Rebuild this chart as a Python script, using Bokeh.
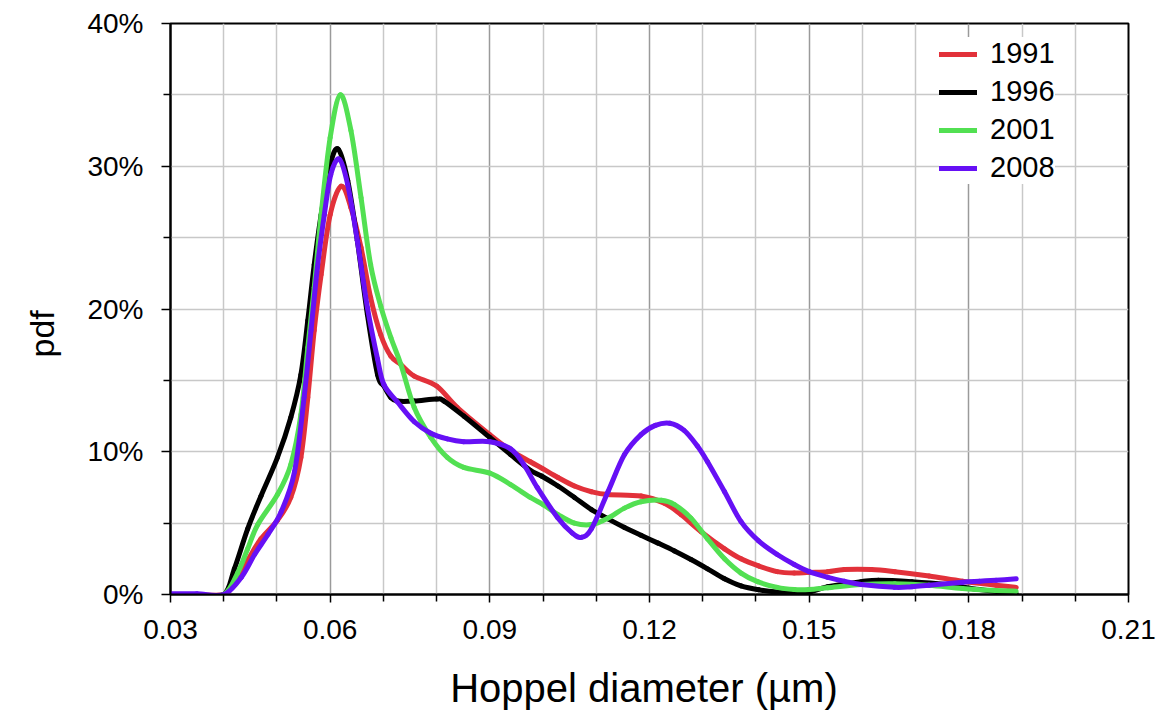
from bokeh.plotting import figure
from bokeh.models import Range1d, FixedTicker, CustomJSTickFormatter, Legend, LegendItem, Title
from bokeh.embed import file_html
from bokeh.resources import INLINE

FONT = "Liberation Sans"

# ---- data (diameter in um, pdf in %) ----
d_1991 = [0.030, 0.035, 0.040, 0.042, 0.0445, 0.047, 0.0501, 0.0526, 0.0545, 0.0558, 0.0570, 0.0583,
          0.0600, 0.0621, 0.0639, 0.0658, 0.0676, 0.0695, 0.0714, 0.0733, 0.0758, 0.0800, 0.0839,
          0.0900, 0.0939, 0.0976, 0.1000, 0.1028, 0.1059, 0.1091, 0.1122, 0.1184, 0.1228, 0.1259,
          0.1297, 0.1341, 0.1372, 0.1405, 0.1440, 0.1472, 0.1500, 0.1535, 0.1566, 0.1617, 0.1661,
          0.1725, 0.1788, 0.1851, 0.1889]
v_1991 = [0.0, 0.0, 0.0, 0.8, 2.4, 3.9, 5.2, 6.8, 9.6, 13.8, 18.5, 22.4,
          26.6, 28.6, 27.1, 24.3, 20.8, 18.2, 16.7, 16.1, 15.3, 14.6, 13.1,
          11.2, 10.1, 9.3, 8.8, 8.2, 7.6, 7.2, 7.0, 6.9, 6.4, 5.6,
          4.4, 3.2, 2.5, 2.0, 1.6, 1.5, 1.55, 1.6, 1.75, 1.75, 1.6,
          1.3, 0.93, 0.65, 0.5]

d_1996 = [0.030, 0.035, 0.040, 0.042, 0.0445, 0.047, 0.0501, 0.0526, 0.0545, 0.0558, 0.0570, 0.0583,
          0.0600, 0.0615, 0.0633, 0.0651, 0.0670, 0.0689, 0.0701, 0.0714, 0.0726, 0.0758, 0.0800,
          0.0814, 0.0851, 0.0900, 0.0939, 0.0976, 0.0997, 0.1028, 0.1059, 0.1091, 0.1122, 0.1153,
          0.1184, 0.1216, 0.1247, 0.1278, 0.1309, 0.1341, 0.1372, 0.1405, 0.1440, 0.1472, 0.1503,
          0.1535, 0.1598, 0.1630, 0.1693, 0.1756, 0.1820, 0.1889]
v_1996 = [0.0, 0.0, 0.0, 1.8, 4.6, 6.9, 9.6, 12.4, 15.4, 19.2, 23.1, 26.6,
          30.1, 31.2, 29.0, 24.8, 19.6, 15.4, 14.6, 13.8, 13.55, 13.55, 13.7,
          13.55, 12.5, 11.0, 9.8, 8.7, 8.3, 7.6, 6.8, 5.95, 5.3, 4.7,
          4.15, 3.6, 3.05, 2.45, 1.8, 1.1, 0.6, 0.33, 0.17, 0.1, 0.2,
          0.55, 0.9, 1.0, 0.9, 0.7, 0.35, 0.05]

d_2001 = [0.030, 0.035, 0.040, 0.0426, 0.0445, 0.0464, 0.0501, 0.0526, 0.0545, 0.0558, 0.0570, 0.0583,
          0.0600, 0.0619, 0.0639, 0.0658, 0.0676, 0.0695, 0.0714, 0.0733, 0.0758, 0.0789, 0.0820,
          0.0851, 0.0900, 0.0939, 0.0976, 0.1000, 0.1028, 0.1059, 0.1091, 0.1122, 0.1153, 0.1184,
          0.1222, 0.1247, 0.1278, 0.1309, 0.1341, 0.1372, 0.1403, 0.1440, 0.1472, 0.1500, 0.1535,
          0.1598, 0.1661, 0.1725, 0.1788, 0.1851, 0.1889]
v_2001 = [0.0, 0.0, 0.0, 1.5, 3.2, 4.9, 7.0, 9.1, 12.6, 17.3, 21.5, 26.6,
          32.0, 35.0, 32.5, 27.8, 23.1, 20.2, 18.0, 16.1, 13.1, 11.0, 9.6,
          8.9, 8.5, 7.7, 6.8, 6.3, 5.6, 5.0, 4.9, 5.35, 6.05, 6.5,
          6.6, 6.3, 5.35, 3.9, 2.5, 1.5, 0.9, 0.5, 0.35, 0.35, 0.47,
          0.7, 0.75, 0.65, 0.42, 0.28, 0.23]

d_2008 = [0.030, 0.035, 0.040, 0.0433, 0.0458, 0.0483, 0.0508, 0.0533, 0.0551, 0.0564, 0.0576, 0.0589,
          0.0601, 0.0617, 0.0633, 0.0651, 0.0670, 0.0689, 0.0701, 0.0726, 0.0758, 0.0789, 0.0820,
          0.0851, 0.0900, 0.0939, 0.0964, 0.0989, 0.1027, 0.1055, 0.1072, 0.1091, 0.1122, 0.1153,
          0.1184, 0.1211, 0.1238, 0.1265, 0.1290, 0.1309, 0.1341, 0.1372, 0.1405, 0.1440, 0.1472,
          0.1500, 0.1535, 0.1566, 0.1598, 0.1661, 0.1693, 0.1725, 0.1788, 0.1820, 0.1851, 0.1889]
v_2008 = [0.05, 0.05, 0.0, 1.2, 2.8, 4.2, 5.8, 8.6, 13.8, 18.5, 22.9, 26.6,
          29.4, 30.5, 28.7, 24.8, 20.1, 16.5, 14.7, 13.5, 12.1, 11.3, 10.9,
          10.7, 10.7, 10.2, 9.1, 7.5, 5.4, 4.3, 4.0, 4.6, 7.2, 9.8,
          11.2, 11.85, 12.0, 11.5, 10.4, 9.3, 7.2, 5.1, 3.75, 2.8, 2.1,
          1.6, 1.2, 0.93, 0.7, 0.5, 0.55, 0.65, 0.86, 0.93, 1.0, 1.1]

series_names = ["1991", "1996", "2001", "2008"]
series_colors = ["#e2313a", "#000000", "#52e052", "#6610f5"]

x_major = [0.03, 0.06, 0.09, 0.12, 0.15, 0.18, 0.21]
x_minor = [0.04, 0.05, 0.07, 0.08, 0.10, 0.11, 0.13, 0.14, 0.16, 0.17, 0.19, 0.20]
y_major = [0, 10, 20, 30, 40]
y_minor = [5, 15, 25, 35]


def smooth_segments(xv, yv):
    """Bezier segments (smoothed line, as in the original) through the read points."""
    n = len(xv)
    segs = dict(x0=[], y0=[], x1=[], y1=[], cx0=[], cy0=[], cx1=[], cy1=[])
    for i in range(n - 1):
        xa, ya = (xv[i - 1], yv[i - 1]) if i > 0 else (xv[i], yv[i])
        xb, yb = xv[i], yv[i]
        xc, yc = xv[i + 1], yv[i + 1]
        xd, yd = (xv[i + 2], yv[i + 2]) if i + 2 < n else (xc, yc)
        segs["x0"].append(xb); segs["y0"].append(yb)
        segs["x1"].append(xc); segs["y1"].append(yc)
        segs["cx0"].append(xb + (xc - xa) / 6.0); segs["cy0"].append(yb + (yc - ya) / 6.0)
        segs["cx1"].append(xc - (xd - xb) / 6.0); segs["cy1"].append(yc - (yd - yb) / 6.0)
    return segs


p = figure(width=1160, height=713, output_backend="svg", toolbar_location=None,
           x_range=Range1d(0.03, 0.21), y_range=Range1d(0, 40),
           min_border_left=170, min_border_right=32, min_border_top=23, min_border_bottom=119)
p.background_fill_color = "white"
p.border_fill_color = "white"
p.outline_line_color = "black"
p.outline_line_width = 2

# axes
p.xaxis.ticker = FixedTicker(ticks=x_major, minor_ticks=x_minor)
p.yaxis.ticker = FixedTicker(ticks=y_major, minor_ticks=y_minor)
p.xaxis.formatter = CustomJSTickFormatter(code="return tick.toFixed(2);")
p.yaxis.formatter = CustomJSTickFormatter(code="return tick.toFixed(0) + '%';")

for ax in (p.xaxis, p.yaxis):
    ax.axis_line_color = "black"
    ax.axis_line_width = 2
    ax.major_tick_line_color = "black"
    ax.major_tick_line_width = 1.5
    ax.minor_tick_line_color = "black"
    ax.minor_tick_line_width = 1.5
    ax.major_tick_in = 0
    ax.minor_tick_in = 0
    ax.major_label_text_font = FONT
    ax.major_label_text_font_size = "28px"
    ax.major_label_text_color = "black"
    ax.axis_label_text_font = FONT
    ax.axis_label_text_font_style = "normal"
    ax.axis_label_text_color = "black"

p.xaxis.major_tick_out = 8
p.xaxis.minor_tick_out = 7
p.yaxis.major_tick_out = 9
p.yaxis.minor_tick_out = 7
p.xaxis.major_label_standoff = 17
p.yaxis.major_label_standoff = 18
p.xaxis.axis_label = "Hoppel diameter  (µm)"
p.xaxis.axis_label_text_font_size = "40px"
p.xaxis.axis_label_standoff = 24

# y label: a side title so it can sit below the frame centre like the original
ytitle = Title(text="pdf", align="left", offset=237, vertical_align="top", standoff=43,
               text_font=FONT, text_font_size="34px", text_font_style="normal", text_color="black")
p.add_layout(ytitle, "left")

# grid
p.xgrid.ticker = FixedTicker(ticks=x_major, minor_ticks=x_minor)
p.ygrid.ticker = FixedTicker(ticks=y_major, minor_ticks=y_minor)
p.xgrid.grid_line_color = "#9a9a9a"
p.xgrid.grid_line_width = 1.5
p.xgrid.minor_grid_line_color = "#c8c8c8"
p.xgrid.minor_grid_line_width = 1.5
p.ygrid.grid_line_color = "#c8c8c8"
p.ygrid.grid_line_width = 1.5
p.ygrid.minor_grid_line_color = "#c8c8c8"
p.ygrid.minor_grid_line_width = 1.5

xs = [d_1991, d_1996, d_2001, d_2008]
ys = [v_1991, v_1996, v_2001, v_2008]
items = []
for name, color, xv, yv in zip(series_names, series_colors, xs, ys):
    s = smooth_segments(xv, yv)
    r = p.bezier(x0=s["x0"], y0=s["y0"], x1=s["x1"], y1=s["y1"],
                 cx0=s["cx0"], cy0=s["cy0"], cx1=s["cx1"], cy1=s["cy1"],
                 line_color=color, line_width=5, line_cap="round")
    items.append(LegendItem(label=name, renderers=[r]))

legend = Legend(items=items, location=(769, 410))
legend.background_fill_color = "white"
legend.background_fill_alpha = 1.0
legend.border_line_color = None
legend.label_text_font = FONT
legend.label_text_font_size = "29px"
legend.label_text_color = "black"
legend.glyph_width = 38
legend.glyph_height = 30
legend.label_height = 30
legend.label_standoff = 13
legend.spacing = 5
legend.padding = 4
p.add_layout(legend, "center")

open("out.html", "w").write(file_html(p, INLINE))
